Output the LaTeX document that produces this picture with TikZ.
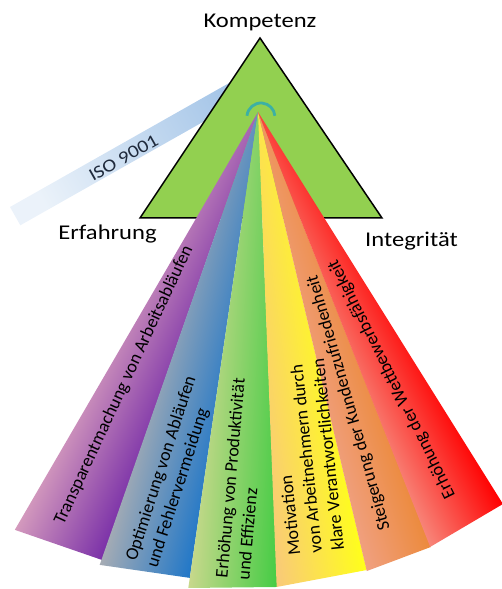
\documentclass[tikz,border=0pt]{standalone}
\usepackage{fontspec}
\setmainfont{Carlito}
\newfontfamily\labelfont{Carlito}[FakeStretch=1.17]
\usetikzlibrary{positioning}

\definecolor{triGreen}{HTML}{92D050}
\definecolor{isoBlue}{HTML}{A6C6E8}
\definecolor{isoText}{HTML}{1F2A3C}
\definecolor{arcTeal}{HTML}{3CB0A4}
\definecolor{purL}{HTML}{D49ABD}
\definecolor{purR}{HTML}{7A30A8}
\definecolor{bluL}{HTML}{A6ACB4}
\definecolor{bluR}{HTML}{2077C8}
\definecolor{greL}{HTML}{C8D88C}
\definecolor{greR}{HTML}{44CC44}
\definecolor{yelL}{HTML}{F9C97A}
\definecolor{yelR}{HTML}{FFFF1A}
\definecolor{oraL}{HTML}{F0A080}
\definecolor{oraR}{HTML}{EC8A3C}
\definecolor{redL}{HTML}{F7867A}
\definecolor{redR}{HTML}{FF0000}

\begin{document}
\begin{tikzpicture}[x=1pt, y=1pt,
    corner/.style={font=\labelfont\fontsize{21}{25}\selectfont, anchor=base},
    raytext/.style={font=\fontsize{18}{22}\selectfont, align=left, inner sep=0pt}]
            \useasboundingbox (0,0) rectangle (502,589);
            % Define points
            \coordinate (F) at (258,477);
            \coordinate (top) at (260,551);
            \coordinate (bl) at (140,371);
            \coordinate (br) at (382,371);
            % ISO band behind the triangle
            \shade[left color=isoBlue!22, right color=isoBlue, shading angle=119.5]
                (10,382) -- ++(29.5:270) -- ++(-60.5:21) -- ++(209.5:270) -- cycle;
            \node[rotate=29.5, text=isoText, font=\labelfont\fontsize{18}{22}\selectfont] (iso) at (123.5,431) {ISO 9001};
            % Triangle
            \draw[fill=triGreen, line width=1.5pt] (top) -- (br) -- (bl) -- cycle;
            % Draw rays (each one turned so that it points down)
            \foreach \rot/\h/\la/\lb/\lc/\rc in {
                335.3/5.5/483.5/474.4/purL/purR,
                346.2/5.47/479.8/470.9/bluL/bluR,
                357.0/5.33/481.1/475.4/greL/greR,
                7.8/5.55/475.4/470.8/yelL/yelR,
                17.5/4.17/471.8/468.1/oraL/oraR,
                26.8/5.2/467.8/462.3/redL/redR}{
                \begin{scope}[transform canvas={shift={(F)}, rotate=\rot}]
                    \shade[left color=\lc, right color=\rc] (0,0) -- (-90-\h:\la) -- (-90+\h:\lb) -- cycle;
                \end{scope}
            }
            \draw[arcTeal, line width=2.8pt] (247,473.2) arc (175:5:14);
            % Texts on the rays
            \node[raytext, rotate=65] (transp) at (124,204) {Transparentmachung von Arbeitsabläufen};
            \node[raytext, rotate=72] (optim) at (172,117) {Optimierung von Abläufen\\und Fehlervermeidung};
            \node[raytext, rotate=85] (produkt) at (241,110) {Erhöhung von Produktivität\\und Effizienz};
            \node[raytext, rotate=96] (motiv) at (306,132) {Motivation\\von Arbeitnehmern durch\\klare Verantwortlichkeiten};
            \node[raytext, rotate=106] (kunden) at (349,186) {Steigerung der Kundenzufriedenheit};
            \node[raytext, rotate=116.6] (wettb) at (392,210) {Erhöhung der Wettbewerbsfähigkeit};
            % Corner labels
            \node[corner] (kompetenz) at (260,561) {Kompetenz};
            \node[corner] (erfahrung) at (107.5,349) {Erfahrung};
            \node[corner] (integritaet) at (411.5,342) {Integrität};
          \end{tikzpicture}
\end{document}
